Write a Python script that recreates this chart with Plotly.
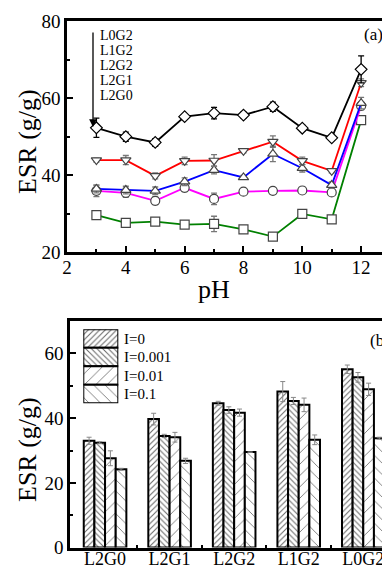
import plotly.graph_objects as go

W, H = 382, 569
FONT = "Liberation Serif"

# ---------- top panel data (ESR vs pH) ----------
ph = [3, 4, 5, 6, 7, 8, 9, 10, 11, 12]
series_names = ["L0G2", "L1G2", "L2G2", "L2G1", "L2G0"]
esr_L0G2 = [52.3, 50.0, 48.5, 55.2, 56.1, 55.6, 57.8, 52.2, 49.7, 67.5]
esr_L1G2 = [43.9, 43.9, 39.8, 43.7, 43.8, 46.3, 48.7, 43.7, 41.1, 64.0]
esr_L2G2 = [36.4, 36.1, 35.9, 38.3, 41.3, 39.4, 45.5, 41.8, 37.4, 58.7]
esr_L2G1 = [35.9, 35.4, 33.3, 36.7, 33.8, 35.7, 35.9, 36.0, 35.5, 58.0]
esr_L2G0 = [29.6, 27.6, 27.9, 27.1, 27.3, 25.9, 24.0, 29.9, 28.5, 54.3]
err_L0G2 = [2.5, 1.2, 1.0, 0.5, 1.5, 0.8, 1.2, 0.8, 0.5, 3.5]
err_L1G2 = [0.5, 1.2, 0.8, 1.0, 1.5, 0.5, 1.5, 1.0, 0.5, 1.0]
err_L2G2 = [1.0, 1.0, 1.0, 1.0, 1.0, 0.5, 2.0, 1.0, 0.8, 1.5]
err_L2G1 = [1.5, 1.2, 1.0, 1.0, 1.5, 0.5, 0.5, 0.5, 0.5, 1.0]
err_L2G0 = [0.5, 0.5, 0.5, 0.5, 2.0, 0.5, 0.3, 1.0, 0.5, 1.0]

# ---------- bottom panel data (ESR vs sample, ionic strength) ----------
samples = ["L2G0", "L2G1", "L2G2", "L1G2", "L0G2"]
ionic_labels = ["I=0", "I=0.001", "I=0.01", "I=0.1"]
esr_I0 = [33.0, 39.7, 44.6, 48.2, 55.1]
esr_I0001 = [32.4, 34.5, 42.5, 45.3, 52.6]
esr_I001 = [27.6, 34.1, 41.7, 44.1, 48.9]
esr_I01 = [24.2, 26.8, 29.5, 33.3, 33.8]
err_I0 = [1.1, 1.8, 0.6, 3.1, 1.3]
err_I0001 = [0.3, 0.5, 1.0, 1.1, 1.5]
err_I001 = [2.3, 1.5, 1.1, 2.1, 1.9]
err_I01 = [0.3, 0.8, 0.0, 1.5, 0.3]

# ---------- helpers ----------
def px_x(p):
    return p / W

def px_y(p):
    return 1 - p / H

fig = go.Figure()

line_styles = [
    ("L0G2", esr_L0G2, err_L0G2, "black", "diamond", "black"),
    ("L1G2", esr_L1G2, err_L1G2, "red", "triangle-down", "#777"),
    ("L2G2", esr_L2G2, err_L2G2, "blue", "triangle-up", "#777"),
    ("L2G1", esr_L2G1, err_L2G1, "magenta", "circle", "#777"),
    ("L2G0", esr_L2G0, err_L2G0, "green", "square", "#777"),
]
for name, ys, es, col, sym, ecol in reversed(line_styles):
    fig.add_trace(go.Scatter(
        x=ph, y=ys, name=name, mode="lines+markers",
        line=dict(color=col, width=1.8),
        marker=dict(symbol=sym, size=9, color="white",
                    line=dict(color="#444" if col != "black" else "black", width=1.2)),
        error_y=dict(type="data", array=es, visible=True, color=ecol,
                     thickness=1.3, width=3),
        xaxis="x", yaxis="y", showlegend=False, cliponaxis=False,
    ))

# bars
bar_sets = [
    (ionic_labels[0], esr_I0, err_I0, "/", 4, 0.25),
    (ionic_labels[1], esr_I0001, err_I0001, "\\", 4, 0.25),
    (ionic_labels[2], esr_I001, err_I001, "/", 8, 0.1),
    (ionic_labels[3], esr_I01, err_I01, "\\", 8, 0.1),
]
xpos = list(range(1, len(samples) + 1))
for name, ys, es, shp, sz, sol in bar_sets:
    fig.add_trace(go.Bar(
        x=xpos, y=ys, name=name,
        marker=dict(color="white", line=dict(color="black", width=2),
                    pattern=dict(shape=shp, size=sz, solidity=sol,
                                 fgcolor="#666", bgcolor="white")),
        error_y=dict(type="data", array=es, visible=True, color="#888",
                     thickness=1, width=2.5),
        xaxis="x2", yaxis="y2", showlegend=False,
    ))

# custom legend swatches as an inset axes
for i, (name, ys, es, shp, sz, sol) in enumerate(bar_sets):
    fig.add_trace(go.Bar(
        x=[1], y=[i], orientation="h", width=1, base=0,
        marker=dict(color="white", line=dict(color="black", width=2),
                    pattern=dict(shape=shp, size=sz, solidity=sol,
                                 fgcolor="#666", bgcolor="white")),
        xaxis="x3", yaxis="y3", showlegend=False, cliponaxis=False,
        hoverinfo="skip",
    ))

tickfont = dict(family=FONT, size=19, color="black")
axline = dict(showline=True, linecolor="black", linewidth=2.5,
              showgrid=False, zeroline=False, ticks="inside",
              tickcolor="black", tickwidth=2, ticklen=6, tickfont=tickfont,
              automargin=False, ticklabeloverflow="allow")

fig.update_layout(
    template="none",
    width=W, height=H,
    margin=dict(l=0, r=0, t=0, b=0, pad=0),
    paper_bgcolor="white", plot_bgcolor="white",
    barmode="group", bargap=0.34, bargroupgap=0,
    xaxis=dict(domain=[px_x(67), 1], range=[2, 12.71], anchor="y",
               tickvals=[2, 4, 6, 8, 10, 12], mirror=True,
               ticklabelstandoff=-4,
               minor=dict(tickvals=[3, 5, 7, 9, 11], ticks="inside",
                          ticklen=3, tickwidth=2, tickcolor="black"),
               **axline),
    yaxis=dict(domain=[px_y(252), px_y(21.3)], range=[20, 80], anchor="x",
               tickvals=[20, 40, 60, 80],
               minor=dict(tickvals=[30, 50, 70], ticks="inside",
                          ticklen=3, tickwidth=2, tickcolor="black"),
               **axline),
    xaxis2=dict(domain=[px_x(70), 1], range=[0.457, 5.29], anchor="y2",
                tickvals=xpos, ticktext=samples, mirror=True,
                ticklabelstandoff=-7,
                minor=dict(tickvals=[1.5, 2.5, 3.5, 4.5], ticks="inside",
                           ticklen=3, tickwidth=2, tickcolor="black"),
                **{**axline, "ticklen": 0,
                   "tickfont": dict(family=FONT, size=18, color="black")}),
    yaxis2=dict(domain=[px_y(547.6), px_y(320.7)], range=[0, 70.1], anchor="x2",
                tickvals=[0, 20, 40, 60],
                minor=dict(tickvals=[10, 30, 50], ticks="inside",
                           ticklen=3, tickwidth=2, tickcolor="black"),
                **axline),
    xaxis3=dict(domain=[px_x(83.3), px_x(118.3)], range=[0, 1],
                visible=False, anchor="y3", fixedrange=True, automargin=False),
    yaxis3=dict(domain=[px_y(403.3), px_y(329.3)], range=[3.5, -0.5],
                visible=False, anchor="x3", fixedrange=True, automargin=False),
)

ann = []
# series labels with arrow
for i, nm in enumerate(series_names):
    ann.append(dict(x=px_x(98), y=px_y(35 + i * 15.1), xref="paper", yref="paper",
                    text=nm, showarrow=False, xanchor="left", yanchor="middle",
                    font=dict(family=FONT, size=14, color="black")))
ann.append(dict(x=px_x(93), y=px_y(127), xref="paper", yref="paper",
                ax=0, ay=-96, axref="pixel", ayref="pixel",
                text="", showarrow=True, arrowhead=2, arrowsize=1.2,
                arrowwidth=1.3, arrowcolor="black"))
# legend labels
for i, nm in enumerate(ionic_labels):
    ann.append(dict(x=px_x(121.5), y=px_y(338.5 + i * 18.5), xref="paper", yref="paper",
                    text=nm, showarrow=False, xanchor="left", yanchor="middle",
                    font=dict(family=FONT, size=15, color="black")))
# panel tags
ann.append(dict(x=px_x(362), y=px_y(34), xref="paper", yref="paper", text="(a)",
                showarrow=False, xanchor="left", yanchor="middle",
                font=dict(family=FONT, size=17, color="black")))
ann.append(dict(x=px_x(368), y=px_y(340), xref="paper", yref="paper", text="(b)",
                showarrow=False, xanchor="left", yanchor="middle",
                font=dict(family=FONT, size=17, color="black")))
# axis titles
ann.append(dict(x=px_x(27), y=px_y(142), xref="paper", yref="paper", text="ESR (g/g)",
                showarrow=False, textangle=-90, xanchor="center", yanchor="middle",
                font=dict(family=FONT, size=26, color="black")))
ann.append(dict(x=px_x(27), y=px_y(450), xref="paper", yref="paper", text="ESR (g/g)",
                showarrow=False, textangle=-90, xanchor="center", yanchor="middle",
                font=dict(family=FONT, size=26, color="black")))
ann.append(dict(x=px_x(214), y=px_y(289), xref="paper", yref="paper", text="pH",
                showarrow=False, xanchor="center", yanchor="middle",
                font=dict(family=FONT, size=26, color="black")))
fig.update_layout(annotations=ann)

fig.write_html(
    "out.html",
    config={"displayModeBar": False},
    post_script="document.body.style.margin='0';document.body.style.padding='0';"
                "document.documentElement.style.overflow='hidden';",
)
